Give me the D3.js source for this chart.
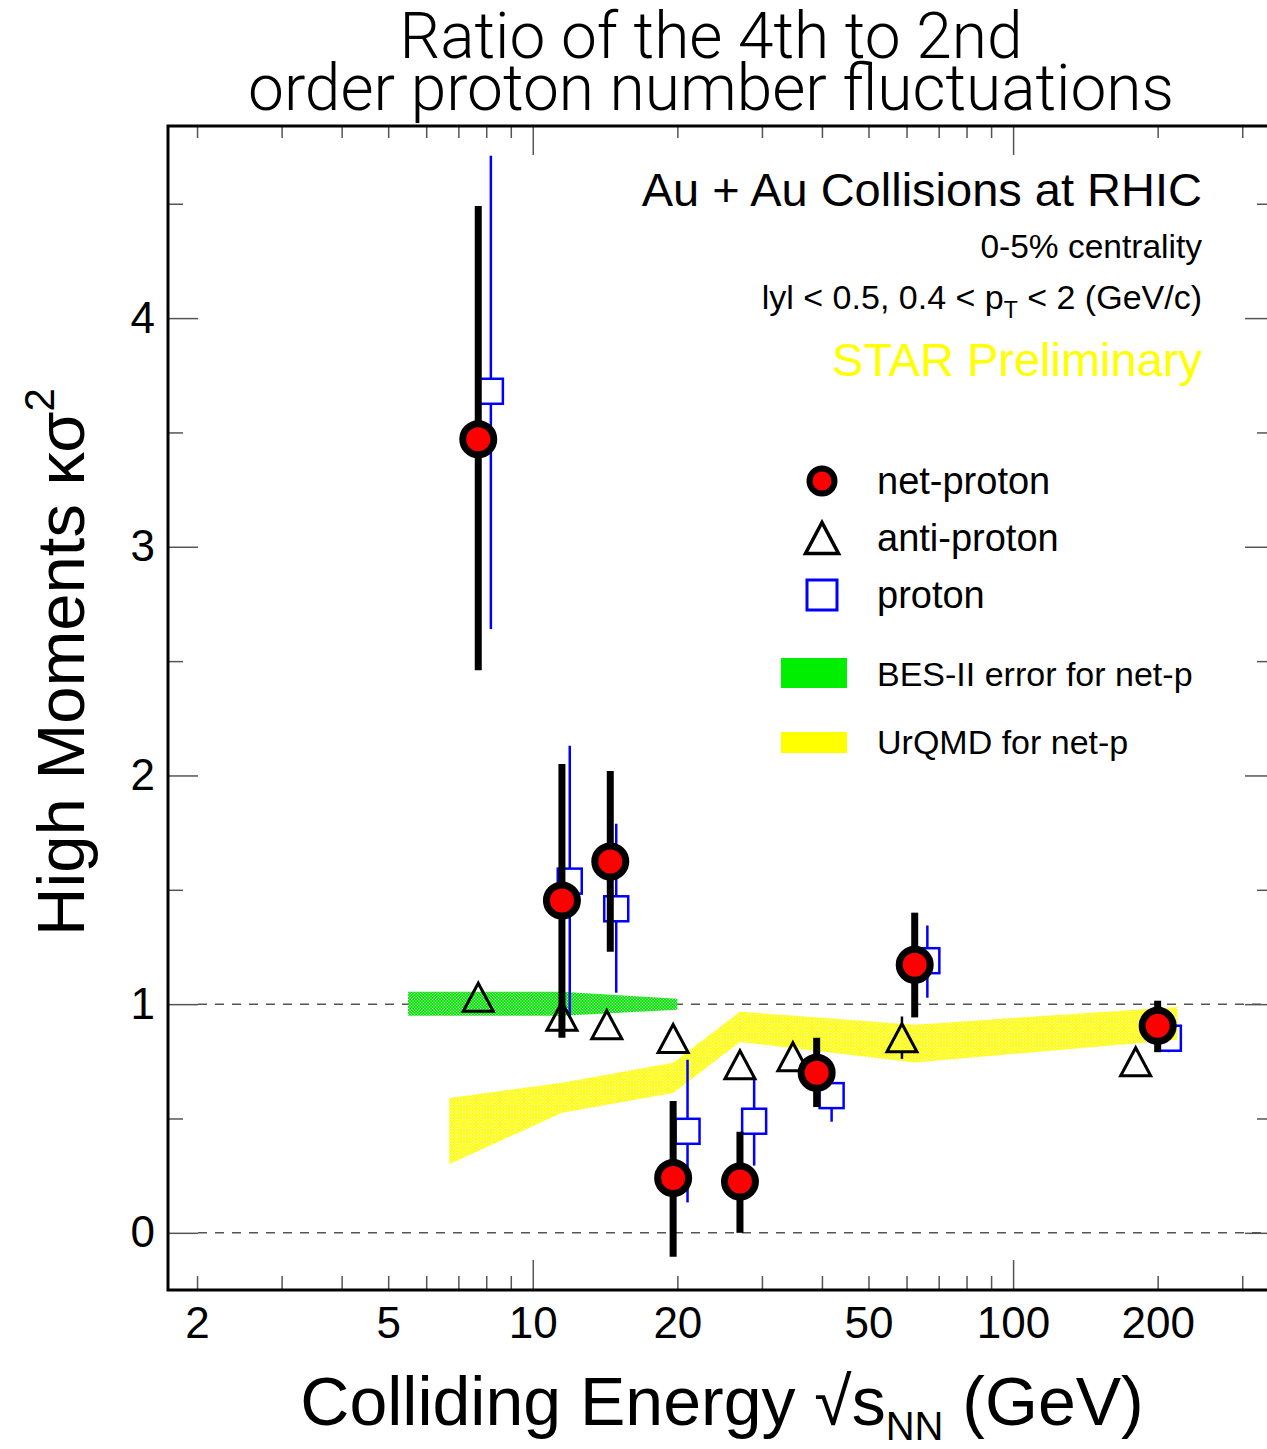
<!DOCTYPE html>
<html><head><meta charset="utf-8">
<script src="https://cdn.jsdelivr.net/npm/d3@7"></script>
<style>
html,body{margin:0;padding:0;background:#fff;}
svg{display:block;}
</style></head>
<body>
<script>
// ---------- data ----------
const netEnergy = [7.7, 11.5, 14.5, 19.6, 27, 39, 62.4, 200];
const netValue  = [3.47, 1.453, 1.624, 0.24, 0.224, 0.70, 1.172, 0.905];
const netHigh   = [4.49, 2.05, 2.02, 0.577, 0.442, 0.853, 1.40, 1.015];
const netLow    = [2.46, 0.853, 1.229, -0.105, 0.0, 0.55, 0.942, 0.79];

const protonEnergy = [8.18, 11.94, 14.92, 21.0, 28.9, 41.9, 66.3, 211];
const protonValue  = [3.68, 1.538, 1.417, 0.444, 0.488, 0.60, 1.19, 0.851];
const protonHigh   = [4.71, 2.13, 1.789, 0.757, 0.674, 0.70, 1.344, 0.93];
const protonLow    = [2.64, 0.945, 1.05, 0.133, 0.294, 0.486, 1.028, 0.79];

const antiEnergy = [7.7, 11.5, 14.26, 19.6, 27, 34.8, 58.7, 180];
const antiValue  = [1.03, 0.947, 0.91, 0.85, 0.735, 0.77, 0.853, 0.748];
const antiHigh   = [1.06, 0.977, 0.94, 0.88, 0.765, 0.80, 0.946, 0.778];
const antiLow    = [1.00, 0.917, 0.88, 0.82, 0.705, 0.74, 0.761, 0.718];

const besEnergy = [5.5, 11.5, 20];
const besHigh   = [1.054, 1.054, 1.024];
const besLow    = [0.949, 0.949, 0.975];

const urqmdEnergy = [6.7, 11.5, 19.6, 27, 62.4, 220];
const urqmdHigh   = [0.59, 0.656, 0.744, 0.967, 0.91, 0.988];
const urqmdLow    = [0.30, 0.525, 0.612, 0.835, 0.745, 0.844];

const xMajorTicks = [10, 100];
const xMinorTicks = [2,3,4,5,6,7,8,9,20,30,40,50,60,70,80,90,200,300];
const xTickLabels = [2, 5, 10, 20, 50, 100, 200];
const yMajorTicks = [0, 1, 2, 3, 4];
const yMinorTicks = [0.5, 1.5, 2.5, 3.5, 4.5];
const yTickLabels = [0, 1, 2, 3, 4];
const refLines = [0, 1];

const titleLines = ["Ratio of the 4th to 2nd", "order proton number fluctuations"];
const legendLabels = ["net-proton", "anti-proton", "proton", "BES-II error for net-p", "UrQMD for net-p"];

// ---------- layout ----------
const W = 1267, H = 1449;
const P = {left: 168, top: 126, right: 1272, bottom: 1290};
const FONT = "'Liberation Sans', Arial, Helvetica, sans-serif";

const svg = d3.select("body").append("svg").attr("width", W).attr("height", H)
  .style("font-family", FONT);

const x = d3.scaleLog().domain([1.74, 346]).range([P.left, P.right]);
const y = d3.scaleLinear().domain([-0.25, 4.84]).range([P.bottom, P.top]);

// patterns
const defs = svg.append("defs");
function checker(id, color) {
  const p = defs.append("pattern").attr("id", id).attr("patternUnits", "userSpaceOnUse")
    .attr("width", 3).attr("height", 3);
  p.append("rect").attr("width", 3).attr("height", 3).attr("fill", color);
  p.append("rect").attr("x", 0).attr("y", 0).attr("width", 1).attr("height", 1).attr("fill", "#fff");
  p.append("rect").attr("x", 1.5).attr("y", 1.5).attr("width", 1).attr("height", 1).attr("fill", "#fff");
}
checker("greenHatch", "#00e600");
checker("yellowHatch", "#ffff00");
defs.append("clipPath").attr("id", "plotClip").append("rect")
  .attr("x", P.left).attr("y", P.top).attr("width", P.right - P.left).attr("height", P.bottom - P.top);

// title
svg.append("g").selectAll("text").data(titleLines).join("text")
  .attr("x", 711).attr("y", (d, i) => 58 + i * 52)
  .attr("text-anchor", "middle")
  .style("font-family", "Roboto, 'Liberation Sans', sans-serif")
  .style("font-weight", 300).style("font-size", "64px").attr("fill", "#000")
  .text(d => d);

// axes ticks
function styleTicks(g) {
  g.select(".domain").remove();
  g.selectAll(".tick line").attr("stroke", "#555").attr("stroke-width", 1.5);
  g.selectAll(".tick text").remove();
}
svg.append("g").attr("transform", `translate(0,${P.bottom})`)
  .call(d3.axisBottom(x).tickValues(xMajorTicks).tickSize(-30)).call(styleTicks);
svg.append("g").attr("transform", `translate(0,${P.bottom})`)
  .call(d3.axisBottom(x).tickValues(xMinorTicks).tickSize(-14)).call(styleTicks);
svg.append("g").attr("transform", `translate(0,${P.top})`)
  .call(d3.axisTop(x).tickValues(xMajorTicks).tickSize(-29)).call(styleTicks);
svg.append("g").attr("transform", `translate(0,${P.top})`)
  .call(d3.axisTop(x).tickValues(xMinorTicks).tickSize(-12)).call(styleTicks);
svg.append("g").attr("transform", `translate(${P.left},0)`)
  .call(d3.axisLeft(y).tickValues(yMajorTicks).tickSize(-30)).call(styleTicks);
svg.append("g").attr("transform", `translate(${P.left},0)`)
  .call(d3.axisLeft(y).tickValues(yMinorTicks).tickSize(-15)).call(styleTicks);
svg.append("g").attr("transform", `translate(${P.right},0)`)
  .call(d3.axisRight(y).tickValues(yMajorTicks).tickSize(-27)).call(styleTicks);
svg.append("g").attr("transform", `translate(${P.right},0)`)
  .call(d3.axisRight(y).tickValues(yMinorTicks).tickSize(-15)).call(styleTicks);

// tick labels
const xl = svg.append("g").attr("transform", `translate(0,${P.bottom})`)
  .call(d3.axisBottom(x).tickValues(xTickLabels).tickSize(0).tickPadding(17).tickFormat(d3.format("d")));
xl.select(".domain").remove();
xl.selectAll("text").style("font-family", FONT).style("font-size", "44px").attr("fill", "#000");
const yl = svg.append("g").attr("transform", `translate(${P.left},0)`)
  .call(d3.axisLeft(y).tickValues(yTickLabels).tickSize(0).tickPadding(13).tickFormat(d3.format("d")));
yl.select(".domain").remove();
yl.selectAll("text").style("font-family", FONT).style("font-size", "44px").attr("fill", "#000");

// reference dashed lines
svg.append("g").selectAll("line").data(refLines).join("line")
  .attr("x1", P.left + 30).attr("x2", P.right).attr("y1", d => y(d)).attr("y2", d => y(d))
  .attr("stroke", "#555").attr("stroke-width", 1.5).attr("stroke-dasharray", "9,8");

// bands
const plot = svg.append("g").attr("clip-path", "url(#plotClip)");
const besData = besEnergy.map((e, i) => ({e, hi: besHigh[i], lo: besLow[i]}));
const urData = urqmdEnergy.map((e, i) => ({e, hi: urqmdHigh[i], lo: urqmdLow[i]}));
const area = d3.area().x(d => x(d.e)).y0(d => y(d.lo)).y1(d => y(d.hi));
plot.append("path").datum(besData).attr("d", area).attr("fill", "url(#greenHatch)");
plot.append("path").datum(urData).attr("d", area).attr("fill", "url(#yellowHatch)");

// error bar helper, split around marker
function errBars(g, data, half, color, width) {
  g.selectAll(null).data(data).join("line")
    .attr("x1", d => x(d.e)).attr("x2", d => x(d.e))
    .attr("y1", d => y(d.hi)).attr("y2", d => Math.max(y(d.hi), y(d.v) - half))
    .attr("stroke", color).attr("stroke-width", width);
  g.selectAll(null).data(data).join("line")
    .attr("x1", d => x(d.e)).attr("x2", d => x(d.e))
    .attr("y1", d => Math.min(y(d.lo), y(d.v) + half)).attr("y2", d => y(d.lo))
    .attr("stroke", color).attr("stroke-width", width);
}

// proton
const protData = protonEnergy.map((e, i) => ({e, v: protonValue[i], hi: protonHigh[i], lo: protonLow[i]}));
const gP = plot.append("g");
errBars(gP, protData, 12.5, "#0000ff", 2.5);
gP.selectAll("rect").data(protData).join("rect")
  .attr("x", d => x(d.e) - 12).attr("y", d => y(d.v) - 12.5).attr("width", 24).attr("height", 25)
  .attr("fill", "none").attr("stroke", "#0000ff").attr("stroke-width", 2.5);

// anti-proton
const antiData = antiEnergy.map((e, i) => ({e, v: antiValue[i], hi: antiHigh[i], lo: antiLow[i]}));
const gA = plot.append("g");
errBars(gA, antiData, 15, "#000", 2.5);
const tri = (cx, cy, w, h) => `M${cx - w / 2},${cy + h / 2}L${cx + w / 2},${cy + h / 2}L${cx},${cy - h / 2}Z`;
gA.selectAll("path").data(antiData).join("path")
  .attr("d", d => tri(x(d.e), y(d.v), 30, 28))
  .attr("fill", "none").attr("stroke", "#000").attr("stroke-width", 3).attr("stroke-linejoin", "miter");

// net-proton
const netData = netEnergy.map((e, i) => ({e, v: netValue[i], hi: netHigh[i], lo: netLow[i]}));
const gN = plot.append("g");
gN.selectAll("line").data(netData).join("line")
  .attr("x1", d => x(d.e)).attr("x2", d => x(d.e)).attr("y1", d => y(d.hi)).attr("y2", d => y(d.lo))
  .attr("stroke", "#000").attr("stroke-width", 7);
gN.selectAll("circle").data(netData).join("circle")
  .attr("cx", d => x(d.e)).attr("cy", d => y(d.v)).attr("r", 15.5)
  .attr("fill", "#ff0000").attr("stroke", "#000").attr("stroke-width", 7);

// frame
svg.append("path")
  .attr("d", `M${P.right},${P.top}H${P.left}V${P.bottom}H${P.right}`)
  .attr("fill", "none").attr("stroke", "#000").attr("stroke-width", 3);

// header texts
const hdr = svg.append("g").attr("text-anchor", "end");
hdr.append("text").attr("x", 1202).attr("y", 206).style("font-size", "47px").text("Au + Au Collisions at RHIC");
hdr.append("text").attr("x", 1202).attr("y", 258).style("font-size", "33.5px").text("0-5% centrality");
const kin = hdr.append("text").attr("x", 1202).attr("y", 309).style("font-size", "34px");
kin.append("tspan").text("lyl < 0.5, 0.4 < p");
kin.append("tspan").attr("dy", 9).style("font-size", "23px").text("T");
kin.append("tspan").attr("dy", -9).text(" < 2 (GeV/c)");
hdr.append("text").attr("x", 1202).attr("y", 376).style("font-size", "47px").attr("fill", "#ffff00").text("STAR Preliminary");

// legend
const lg = svg.append("g");
lg.append("circle").attr("cx", 822).attr("cy", 481).attr("r", 12.5)
  .attr("fill", "#ff0000").attr("stroke", "#000").attr("stroke-width", 6);
lg.append("path").attr("d", tri(822, 538, 33, 31)).attr("fill", "none").attr("stroke", "#000").attr("stroke-width", 3.5);
lg.append("rect").attr("x", 807).attr("y", 580).attr("width", 30).attr("height", 30)
  .attr("fill", "none").attr("stroke", "#0000ff").attr("stroke-width", 3);
lg.append("rect").attr("x", 781).attr("y", 658).attr("width", 66).attr("height", 30).attr("fill", "#00ee00");
lg.append("rect").attr("x", 781).attr("y", 732).attr("width", 66).attr("height", 21).attr("fill", "#ffff00");
const legY = [494, 551, 608, 686, 754];
const legS = [38, 38, 38, 34, 34];
lg.selectAll("text").data(legendLabels).join("text")
  .attr("x", 877).attr("y", (d, i) => legY[i]).style("font-size", (d, i) => legS[i] + "px").text(d => d);

// axis titles
const xt = svg.append("text").attr("x", 722).attr("y", 1425).attr("text-anchor", "middle").style("font-size", "68px");
xt.append("tspan").text("Colliding Energy \u221As");
xt.append("tspan").attr("dy", 15).style("font-size", "40px").text("NN");
xt.append("tspan").attr("dy", -15).text(" (GeV)");

const yt = svg.append("text").attr("transform", "translate(84,662) rotate(-90)").attr("text-anchor", "middle").style("font-size", "67px");
yt.append("tspan").text("High Moments \u03BA\u03C3");
yt.append("tspan").attr("dy", -30).style("font-size", "42px").text("2");
</script>
</body></html>
